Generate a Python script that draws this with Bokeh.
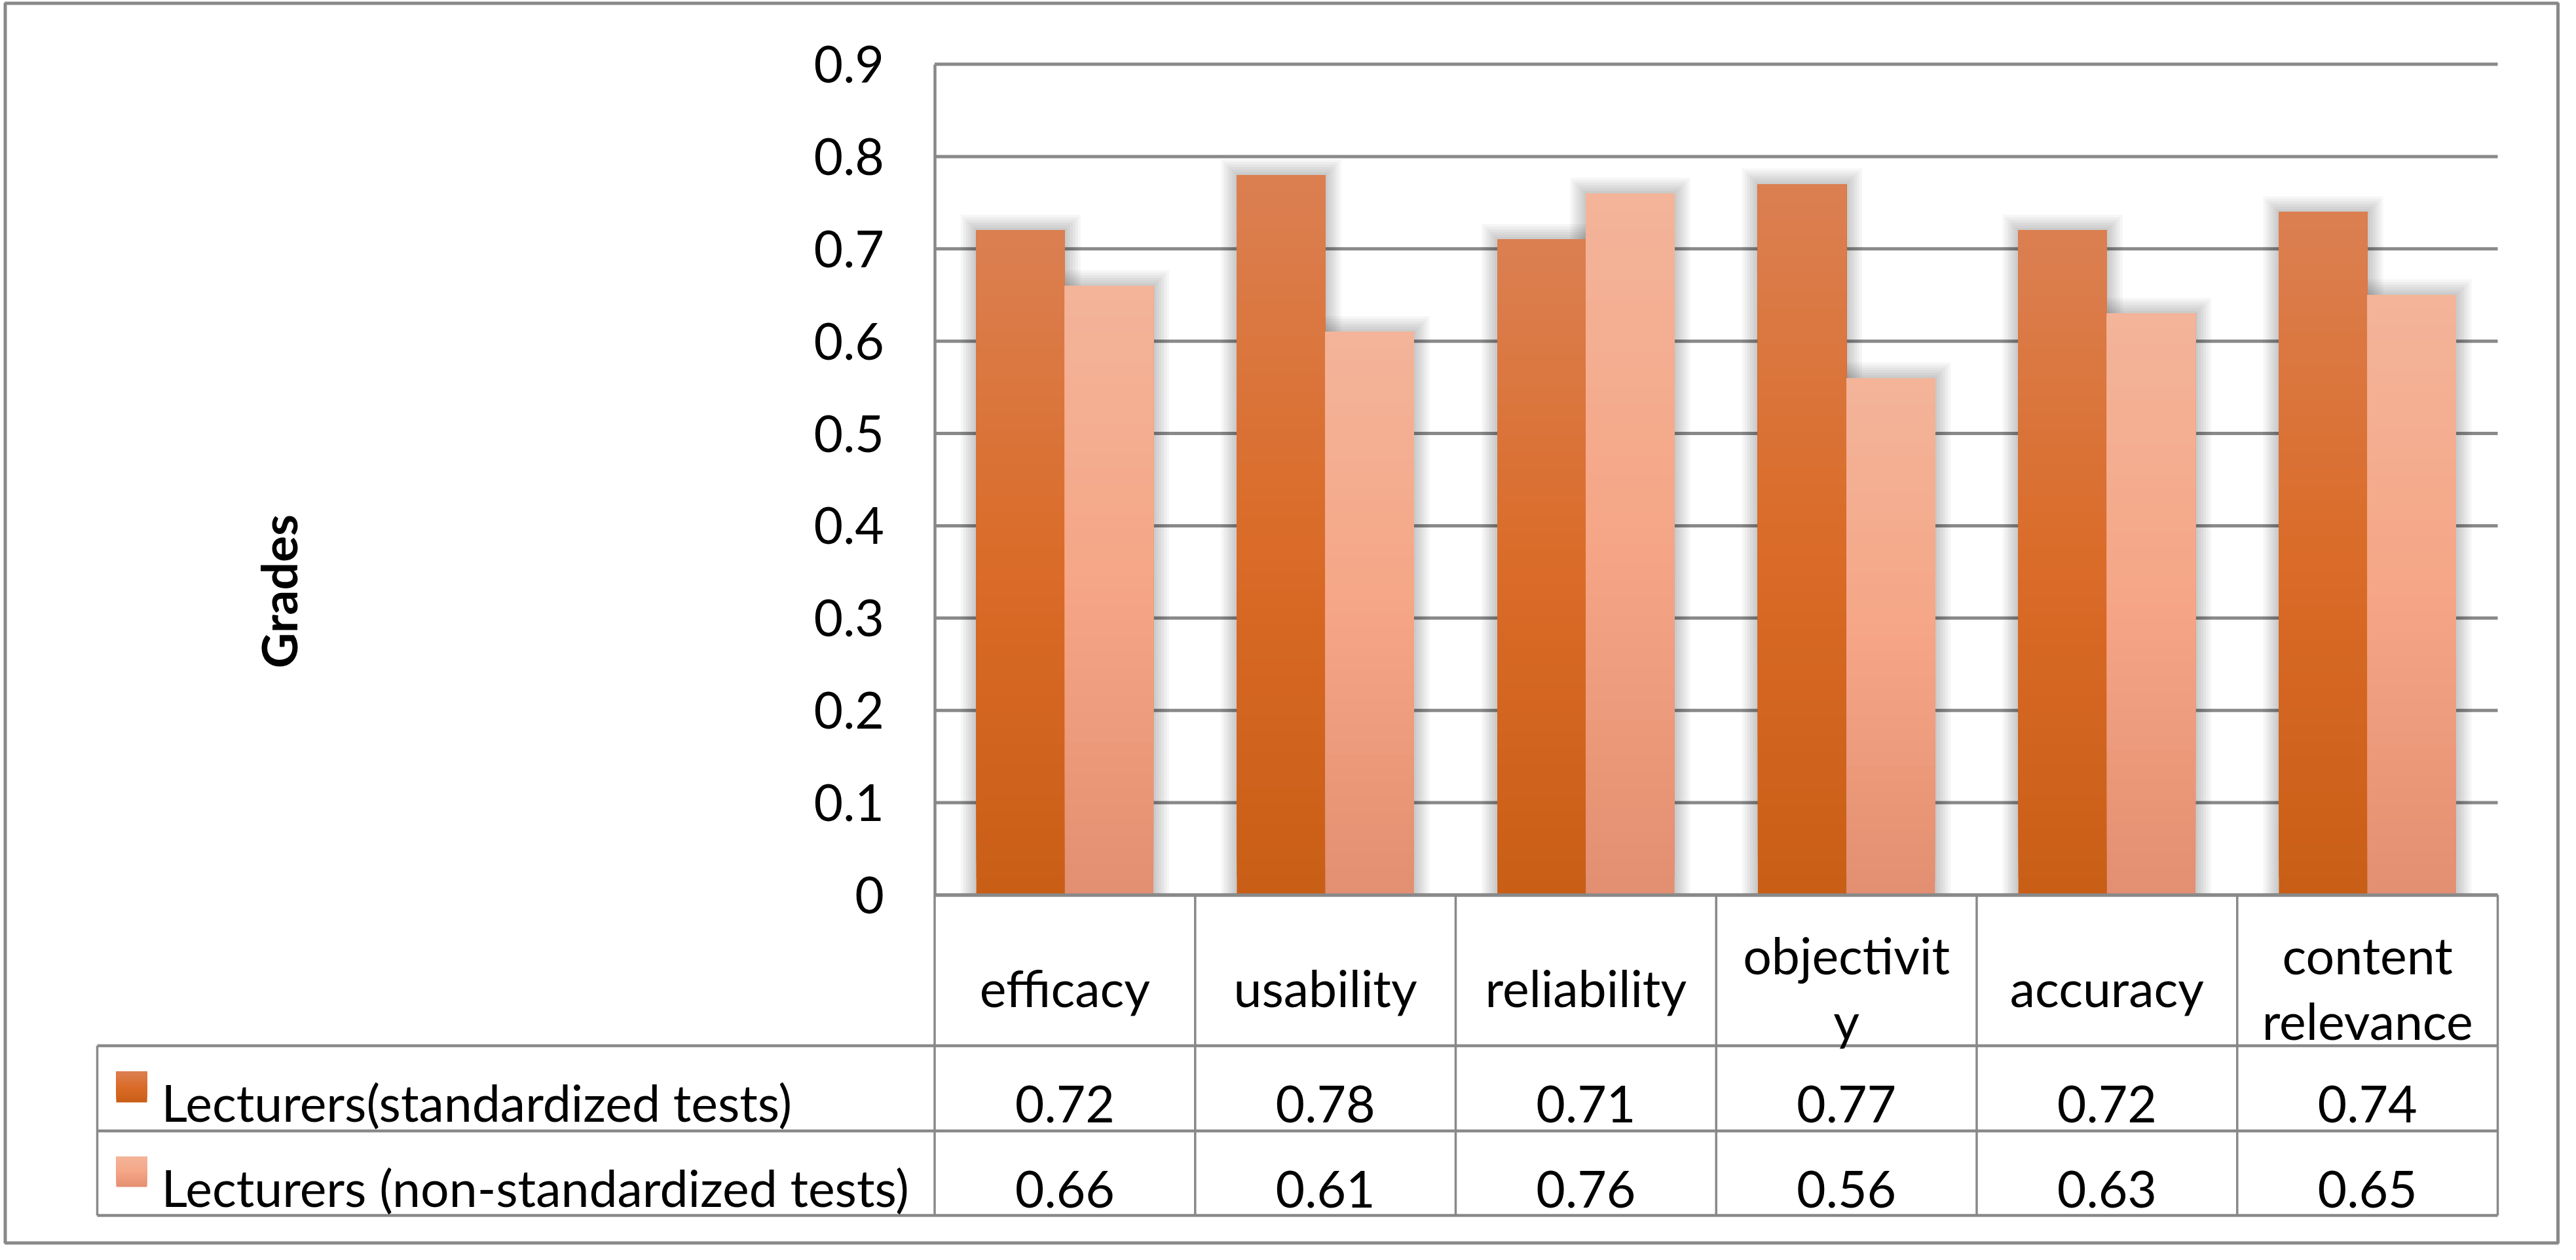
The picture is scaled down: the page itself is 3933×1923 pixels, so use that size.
import math
from bokeh.plotting import figure
from bokeh.models import Range1d, FixedTicker, LinearAxis, ColumnDataSource
from bokeh.embed import file_html
from bokeh.resources import INLINE
from bokeh.core.properties import value

# ---------------- data ----------------
categories = ["efficacy", "usability", "reliability", "objectivity", "accuracy", "content relevance"]
header_labels = ["efficacy", "usability", "reliability", "objectivit\ny", "accuracy", "content\nrelevance"]
standardized = [0.72, 0.78, 0.71, 0.77, 0.72, 0.74]
non_standardized = [0.66, 0.61, 0.76, 0.56, 0.63, 0.65]
series_names = ["Lecturers(standardized tests)", "Lecturers (non-standardized tests)"]
y_ticks = [0, 0.1, 0.2, 0.3, 0.4, 0.5, 0.6, 0.7, 0.8, 0.9]
y_tick_labels = ["0", "0.1", "0.2", "0.3", "0.4", "0.5", "0.6", "0.7", "0.8", "0.9"]
y_title = "Grades"

# ---------------- style / layout ----------------
FONT = "Lato"
FS = "77px"
GRAY = "#898989"
DARK_STOPS = [(0.0, (201, 94, 22)), (0.5, (218, 107, 40)), (1.0, (219, 128, 82))]
LIGHT_STOPS = [(0.0, (227, 142, 112)), (0.5, (245, 166, 134)), (1.0, (243, 180, 153))]
BAR_W = 0.34

W, H = 3916, 1906
X0_PX, X6_PX = 1434.5, 3821.0      # page x of plot area left / right
Y0_PX, Y9_PX = 1373.5, 105.5       # page y of value 0 / 0.9
CW = (X6_PX - X0_PX) / 6.0
PPU = (Y0_PX - Y9_PX) / 0.9


def tx(px):  # page x -> column units
    return (px - X0_PX) / CW


def ty(py):  # page y -> value units
    return (Y0_PX - py) / PPU


def grad(stops, t):
    for (t0, c0), (t1, c1) in zip(stops[:-1], stops[1:]):
        if t <= t1:
            f = (t - t0) / (t1 - t0)
            return "#%02x%02x%02x" % tuple(int(round(a + (b - a) * f)) for a, b in zip(c0, c1))
    return "#%02x%02x%02x" % stops[-1][1]


p = figure(width=W, height=H, x_range=Range1d(tx(8), tx(8 + W)), y_range=Range1d(ty(8 + H), ty(8)),
           x_axis_type=None, y_axis_type=None, output_backend="svg", toolbar_location=None,
           min_border=0)
p.outline_line_color = None
p.background_fill_color = "white"
p.border_fill_color = "white"
p.xgrid.visible = False
p.ygrid.visible = False

# y axis drawn at x = 0 inside the frame
ax = LinearAxis(fixed_location=0, ticker=FixedTicker(ticks=y_ticks),
                major_label_overrides=dict(zip(y_ticks, y_tick_labels)), bounds=(0, 0.9))
ax.axis_line_color = GRAY
ax.axis_line_width = 4.5
ax.major_tick_line_color = None
ax.minor_tick_line_color = None
ax.major_tick_out = 0
ax.major_tick_in = 0
ax.major_label_standoff = 77
ax.major_label_text_font = FONT
ax.major_label_text_font_size = FS
ax.major_label_text_color = "black"
p.add_layout(ax, "left")

# horizontal grid lines at the ticks
n_cat = len(categories)
p.segment(x0=[0] * len(y_ticks), x1=[n_cat] * len(y_ticks), y0=y_ticks, y1=y_ticks,
          line_color=GRAY, line_width=5)

# shadows
sh = dict(left=[], right=[], top=[], bottom=[])
for vals, off in ((standardized, -BAR_W), (non_standardized, 0.0)):
    for i, v in enumerate(vals):
        l = i + 0.5 + off
        for j in range(1, 7):
            sh["left"].append(l - j * 4 / CW)
            sh["right"].append(l + BAR_W + j * 4 / CW)
            sh["bottom"].append(0)
            sh["top"].append(v + j * 4 / PPU)
p.quad(source=ColumnDataSource(sh), left="left", right="right", top="top", bottom="bottom",
       fill_color="black", fill_alpha=0.035, line_color=None)

# gradient bars (slices computed from the values)
N = 40
bars = dict(left=[], right=[], top=[], bottom=[], color=[])
for vals, off, stops in ((standardized, -BAR_W, DARK_STOPS), (non_standardized, 0.0, LIGHT_STOPS)):
    for i, v in enumerate(vals):
        l = i + 0.5 + off
        for k in range(N):
            bars["left"].append(l)
            bars["right"].append(l + BAR_W)
            bars["bottom"].append(v * k / N)
            bars["top"].append(v)
            bars["color"].append(grad(stops, (k + 0.5) / N))
p.quad(source=ColumnDataSource(bars), left="left", right="right", top="top", bottom="bottom",
       fill_color="color", line_color=None)

# y title
p.text(x=[tx(432)], y=[ty(910)], text=[y_title], angle=math.pi / 2, text_align="center",
       text_baseline="middle", text_font=value(FONT), text_font_style="bold",
       text_font_size="75px", text_color="black")

# ---------------- data table ----------------
TL = tx(156)
R1, R2, TB = ty(1603.5), ty(1733.5), ty(1862.5)
OL, OR, OT, OB = tx(15.5), tx(3913), ty(12.5), ty(1904.5)

# outer border
p.quad(left=[OL], right=[OR], top=[OT], bottom=[OB], fill_color=None,
       line_color=GRAY, line_width=5)
# horizontal table lines (first = category axis line)
p.segment(x0=[0, TL, TL, TL], y0=[0, R1, R2, TB], x1=[n_cat] * 4, y1=[0, R1, R2, TB],
          line_color=GRAY, line_width=[5, 4.5, 4.5, 4.5])
# vertical table lines
xs = list(range(n_cat + 1))
p.segment(x0=xs + [TL], y0=[0] * len(xs) + [R1], x1=xs + [TL], y1=[TB] * len(xs) + [TB],
          line_color=GRAY, line_width=3.5)

# header category labels
hx, hy, ht = [], [], []
for i, lab in enumerate(header_labels):
    lines = lab.split("\n")
    n = len(lines)
    for j, ln in enumerate(lines):
        hx.append(i + 0.5)
        hy.append(ty(1514 - (n - 1) * 50 + j * 100))
        ht.append(ln)
p.text(x=hx, y=hy, text=ht, text_align="center", text_baseline="alphabetic",
       text_font=value(FONT), text_font_size=FS, text_color="black")

# value rows
ROW_BASE = [ty(1692), ty(1822)]
vx, vy, vt = [], [], []
for r, vals in enumerate((standardized, non_standardized)):
    for i, v in enumerate(vals):
        vx.append(i + 0.5)
        vy.append(ROW_BASE[r])
        vt.append("%.2f" % v)
p.text(x=vx, y=vy, text=vt, text_align="center", text_baseline="alphabetic",
       text_font=value(FONT), text_font_size=FS, text_color="black")

# legend keys and series names
p.text(x=[tx(254)] * 2, y=[ty(1689), ty(1819)], text=series_names, text_align="left",
       text_baseline="alphabetic", text_font=value(FONT), text_font_size=FS, text_color="black")
SW = [(1643, 1690), (1773, 1819)]
sw = dict(left=[], right=[], top=[], bottom=[], color=[])
NS = 12
for (top, bot), stops in zip(SW, (DARK_STOPS, LIGHT_STOPS)):
    for k in range(NS):
        sw["left"].append(tx(185))
        sw["right"].append(tx(232))
        sw["top"].append(ty(top))
        sw["bottom"].append(ty(bot - (bot - top) * k / NS))
        sw["color"].append(grad(stops, (k + 0.5) / NS))
p.quad(source=ColumnDataSource(sw), left="left", right="right", top="top", bottom="bottom",
       fill_color="color", line_color=None)

open("out.html", "w").write(file_html(p, INLINE))
